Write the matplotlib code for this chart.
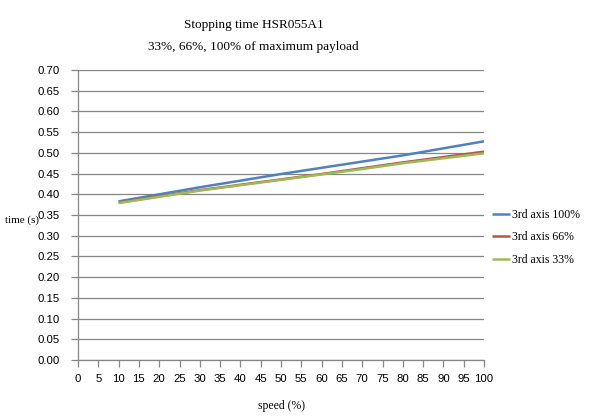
import numpy as np
import matplotlib.pyplot as plt

# =========================
# DATA
# =========================
speed = [10, 20, 30, 40, 50, 60, 70, 80, 90, 100]
time_100 = [0.383, 0.400, 0.417, 0.433, 0.449, 0.464, 0.479, 0.494, 0.511, 0.528]
time_66 = [0.380, 0.395, 0.410, 0.423, 0.436, 0.449, 0.463, 0.477, 0.490, 0.503]
time_33 = [0.379, 0.394, 0.409, 0.422, 0.435, 0.448, 0.461, 0.475, 0.487, 0.499]

labels = ["3rd axis 100%", "3rd axis 66%", "3rd axis 33%"]
colors = ["#4F81BD", "#C0504D", "#9BBB59"]

SERIF = "Liberation Serif"
SANS = "Liberation Sans"
GRID = "#868686"


# =========================
# PLOT
# =========================
fig = plt.figure(figsize=(6.0, 4.17), dpi=100)
ax = fig.add_axes([0.13, 0.1367, 0.6767, 0.6953])

for y, lab, c in zip([time_100, time_66, time_33], labels, colors):
    ax.plot(speed, y, color=c, lw=1.8, label=lab, solid_capstyle="butt")

ax.set_xlim(0, 100)
ax.set_ylim(0, 0.70)
ax.set_xticks(np.arange(0, 101, 5))
ax.set_yticks(np.arange(0, 0.701, 0.05))
ax.set_yticklabels([f"{v:.2f}" for v in np.arange(0, 0.701, 0.05)])

for lbl in ax.get_xticklabels() + ax.get_yticklabels():
    lbl.set_fontfamily(SANS)
    lbl.set_fontsize(8.2)

ax.grid(axis="y", color=GRID, lw=0.9)
ax.set_axisbelow(True)
for side in ["top", "right"]:
    ax.spines[side].set_visible(False)
for side in ["left", "bottom"]:
    ax.spines[side].set_color(GRID)
    ax.spines[side].set_linewidth(0.9)
ax.tick_params(axis="both", color=GRID, length=5, width=0.9)
ax.tick_params(axis="y", pad=8)
ax.tick_params(axis="x", pad=5)

fig.text(0.423, 0.94, "Stopping time HSR055A1", ha="center", va="center",
         family=SERIF, fontsize=9.5)
fig.text(0.423, 0.887, "33%, 66%, 100% of maximum payload", ha="center",
         va="center", family=SERIF, fontsize=9.5)

fig.text(0.008, 0.472, "time (s)", ha="left", va="center", family=SERIF, fontsize=8)
fig.text(0.47, 0.026, "speed (%)", ha="center", va="center", family=SERIF, fontsize=8.5)

leg = ax.legend(loc="center left", bbox_to_anchor=(1.0, 0.423), frameon=False,
                prop={"family": SERIF, "size": 8.5}, handlelength=1.5,
                handletextpad=0.15, labelspacing=0.9, borderaxespad=0.3)

fig.savefig("out.png", dpi=100)
